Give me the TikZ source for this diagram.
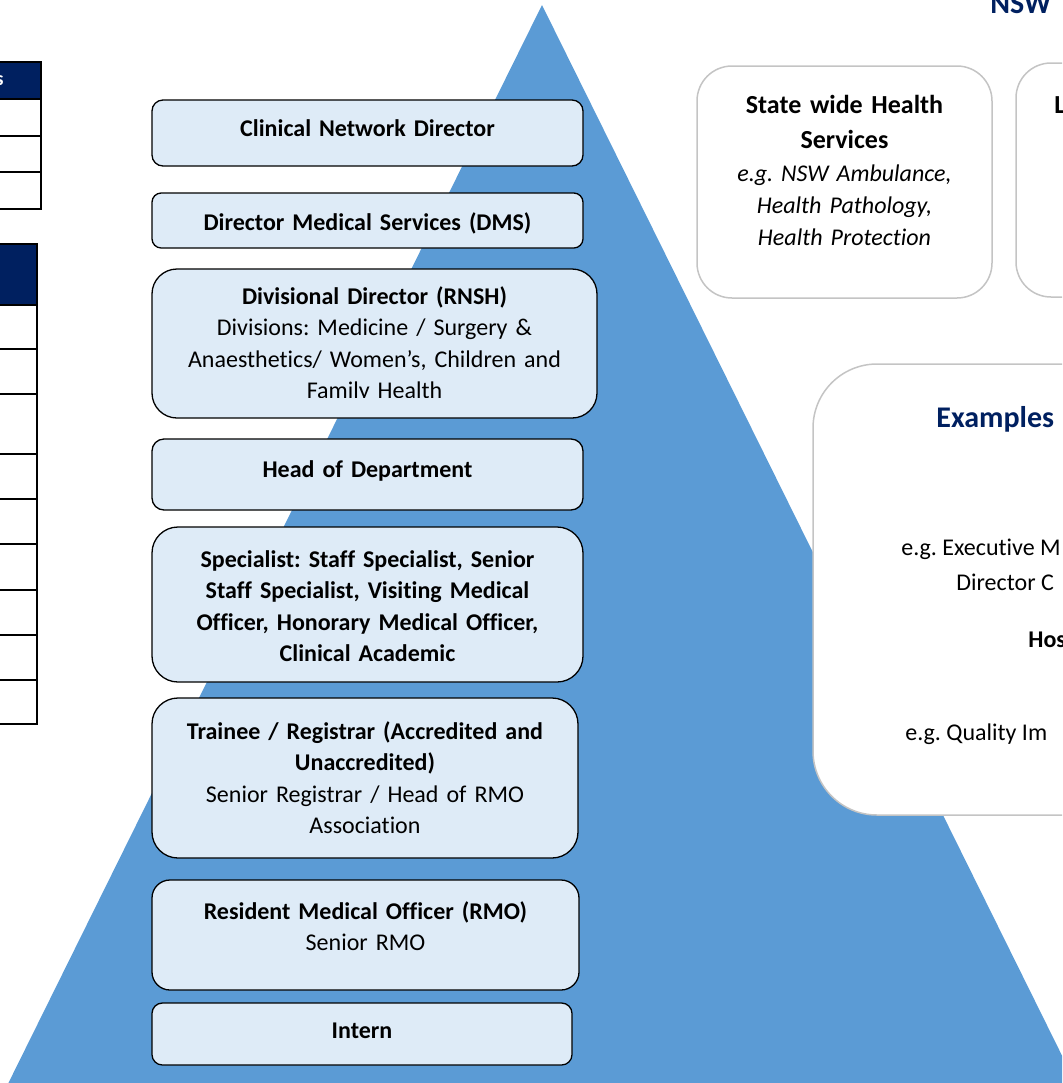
\documentclass[tikz,border=0pt]{standalone}
\usepackage{fontspec}
\setmainfont{Carlito}[Ligatures=NoCommon]
\usepackage{tikz}
\frenchspacing
\definecolor{pyrblue}{HTML}{5B9BD5}
\definecolor{tierfill}{HTML}{DEEBF7}
\definecolor{navy}{HTML}{002060}
\definecolor{boxgray}{HTML}{C4C4C4}

\begin{document}
\begin{tikzpicture}[x=0.5pt, y=-0.5pt,
    tier/.style={draw=black, line width=0.65pt, fill=tierfill},
    tiertext/.style={anchor=base, align=center, inner sep=0pt, text width=#1,
      font=\fontsize{12}{15.8}\selectfont},
    tiertext/.default=215pt,
    orgbox/.style={draw=boxgray, line width=0.75pt, fill=white},
    cell/.style={draw=black, line width=1.2pt},
    head/.style={cell, fill=navy},
    cut/.style={anchor=base west, inner sep=0pt, font=\fontsize{12}{15.8}\selectfont}]
  \useasboundingbox (0,0) rectangle (1062,1083);
  \clip (0,0) rectangle (1062,1083);

  % Pyramid
  \fill[pyrblue] (542,5) -- (1084,1100) -- (0,1100) -- cycle;

  % Tables on the left
  \draw[head] (-20,62) rectangle (41,99);
  \draw[cell] (-20,99) rectangle (41,209);
  \foreach \y in {136,172} \draw[cell] (-20,\y) -- (41,\y);
  \node[anchor=base east, inner sep=0pt, text=white, font=\bfseries] (tabhead) at (4,85) {s};
  \draw[head] (-20,244) rectangle (37,305);
  \draw[cell] (-20,305) rectangle (37,724);
  \foreach \y in {349,394,454,499,544,590,635,680} \draw[cell] (-20,\y) -- (37,\y);

  % Tiers of the pyramid
  \draw[tier, rounded corners=5.5pt] (152,100) rectangle (583,166);
  \node[tiertext] (cnd) at (367.5,136) {\textbf{Clinical Network Director}};

  \draw[tier, rounded corners=4.6pt] (152,193) rectangle (583,248);
  \node[tiertext] (dms) at (367.5,230) {\textbf{Director Medical Services (DMS)}};

  \draw[tier, rounded corners=12.5pt] (152,269) rectangle (597,418);
  \begin{scope}
    \clip (152,269) rectangle (597,397);
    \node[tiertext=220pt] (divdir) at (374.5,304) {\textbf{Divisional Director (RNSH)}\\
      Divisions: Medicine / Surgery \&\\ Anaesthetics/ Women’s, Children and\\ Family Health};
  \end{scope}

  \draw[tier, rounded corners=6pt] (152,439) rectangle (583,510);
  \node[tiertext] (hod) at (367.5,477) {\textbf{Head of Department}};

  \draw[tier, rounded corners=13pt] (152,527) rectangle (583,682);
  \node[tiertext] (spec) at (367.5,567) {\textbf{Specialist: Staff Specialist, Senior}\\
    \textbf{Staff Specialist, Visiting Medical}\\ \textbf{Officer, Honorary Medical Officer,}\\
    \textbf{Clinical Academic}};

  \draw[tier, rounded corners=13pt] (152,698) rectangle (578,858);
  \node[tiertext=210pt] (reg) at (365,739) {\textbf{Trainee / Registrar (Accredited and}\\
    \textbf{Unaccredited)}\\ Senior Registrar / Head of RMO\\ Association};

  \draw[tier, rounded corners=9pt] (152,880) rectangle (579,990);
  \node[tiertext] (rmo) at (365.5,919) {\textbf{Resident Medical Officer (RMO)}\\ Senior RMO};

  \draw[tier, rounded corners=5.2pt] (152,1003) rectangle (572,1065);
  \node[tiertext] (intern) at (362,1038) {\textbf{Intern}};

  % Organisations on the right
  \node[anchor=base west, inner sep=0pt, text=navy, font=\fontsize{15}{18}\selectfont\bfseries] (nsw) at (990,13) {NSW};

  \draw[orgbox, rounded corners=17.5pt] (697,66) rectangle (992,298);
  \node[anchor=base, align=center, inner sep=0pt, text width=140pt,
    font=\fontsize{13}{17.5}\selectfont\bfseries] (statewide) at (844.5,113) {State wide Health\\ Services};
  \node[anchor=base, align=center, inner sep=0pt, text width=140pt,
    font=\fontsize{12}{16}\selectfont\itshape] (stateeg) at (844.5,181) {e.g. NSW Ambulance,\\ Health Pathology,\\ Health Protection};

  \draw[orgbox, rounded corners=17.5pt] (1016,63) rectangle (1200,297);
  \node[anchor=base west, inner sep=0pt, font=\fontsize{13}{17.5}\selectfont\bfseries] (lhd) at (1054,113) {L};

  \draw[orgbox, rounded corners=32pt] (813,364) rectangle (1300,815);
  \node[anchor=base west, inner sep=0pt, text=navy, font=\fontsize{15}{18}\selectfont\bfseries] (examples) at (936,427) {Examples};
  \node[cut] (egexec) at (901,555) {e.g. Executive M};
  \node[cut] (egdir) at (956,590) {Director C};
  \node[cut, font=\fontsize{12}{15.8}\selectfont\bfseries] (hosp) at (1028,647) {Hos};
  \node[cut] (egqual) at (905,740) {e.g. Quality Im};
\end{tikzpicture}
\end{document}
